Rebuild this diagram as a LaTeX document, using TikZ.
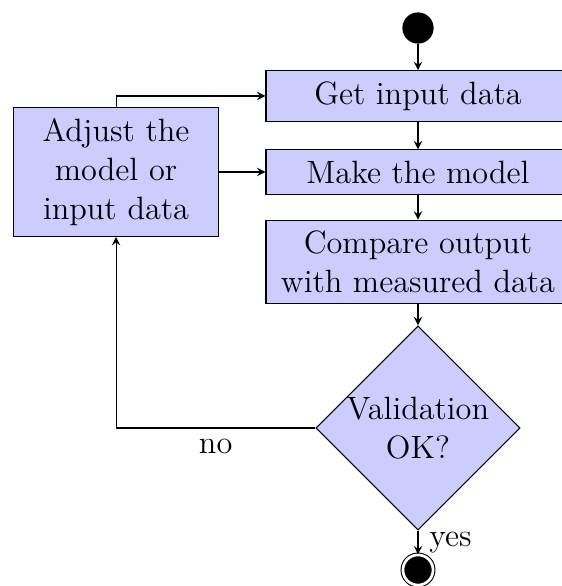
\documentclass[12pt,tikz,border=0pt]{standalone}
\usepackage{amsmath}
\usepackage{tikz}
\usetikzlibrary{shapes.geometric}
\usetikzlibrary{arrows}
\tikzstyle{stepbox}=[draw, fill=blue!20, align=center]
\tikzstyle{wide}=[stepbox, minimum width=113pt]
\tikzstyle{narrow}=[stepbox, text width=2.4cm]
\tikzstyle{decision}=[draw, fill=blue!20, diamond, aspect=1, inner sep=0, minimum width=74pt, align=center]
\tikzstyle{startstate}=[circle, fill=black, draw, minimum size=11.2pt, inner sep=0]
\tikzstyle{endstate}=[circle, fill=black, draw, double, double distance=1pt, minimum size=11.2pt, inner sep=0]
\tikzstyle{flow}=[->, >=stealth]

\begin{document}
\begin{tikzpicture}
        \useasboundingbox (0, 0) rectangle (7.330, 7.656);
        % main column
        \node[startstate] (start) at (5.461, 7.290) {};
        \node[wide] (input) at (5.461, 6.402) {Get input data};
        \node[wide] (model) at (5.461, 5.409) {Make the model};
        \node[wide] (compare) at (5.461, 4.233) {Compare output\\with measured data};
        \node[decision] (valid) at (5.461, 2.064) {Validation\\OK?};
        \node[endstate] (stop) at (5.461, 0.209) {};
        % feedback box
        \node[narrow] (adjust) at (1.516, 5.409) {Adjust the\\model or\\input data};

        \draw[flow] (start) -- (input);
        \draw[flow] (input) -- (model);
        \draw[flow] (model) -- (compare);
        \draw[flow] (compare) -- (valid);
        \draw[flow] (valid) -- node[right] {yes} (stop);
        \draw[flow] (valid.west) -| node[below, pos=0.25] {no} (adjust.south);
        \draw[flow] (adjust.north) |- (input.west);
        \draw[flow] (adjust.east) -- (model.west);
    \end{tikzpicture}
\end{document}
